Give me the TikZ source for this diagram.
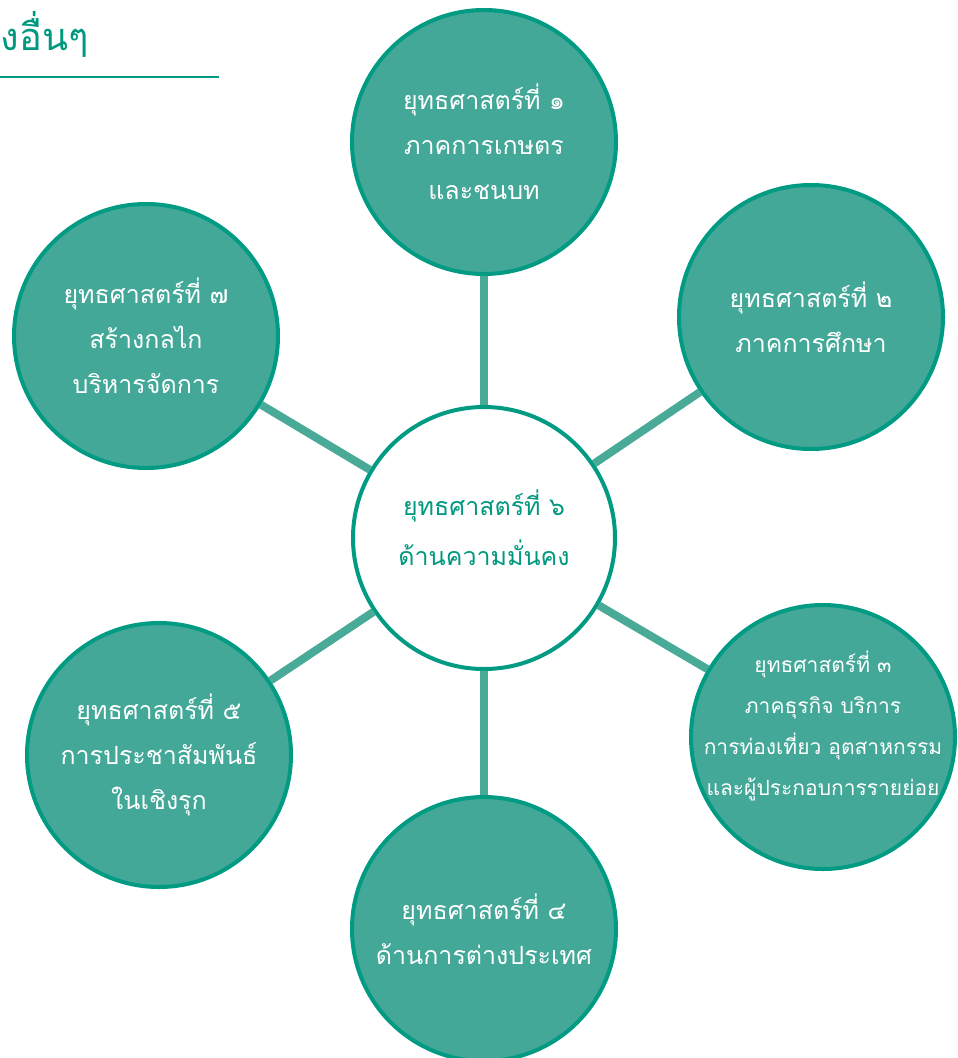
\documentclass[tikz,border=0pt]{standalone}
\usepackage{fontspec}
\newfontfamily\thai[Script=Thai]{Loma}
\definecolor{tealfill}{HTML}{43A897}
\definecolor{tealedge}{HTML}{009B82}
\definecolor{tealline}{HTML}{48AA97}
\definecolor{tealtext}{HTML}{00997F}
\tikzset{
  outer/.style={circle, draw=tealedge, line width=4pt, fill=tealfill, minimum size=264pt, inner sep=0pt,
    text=white, align=center, font=\thai\fontsize{25}{45}\selectfont},
  hub/.style={circle, draw=tealedge, line width=4pt, fill=white, minimum size=262pt, inner sep=0pt,
    text=tealtext, align=center, font=\thai\fontsize{25}{50}\selectfont},
  spoke/.style={draw=tealline, line width=8pt},
  titletext/.style={text=tealtext, font=\thai\fontsize{38}{40}\selectfont, inner sep=0pt}
}
\begin{document}
\begin{tikzpicture}[x=1pt,y=-1pt]
\useasboundingbox (0,0) rectangle (958,1058);
\clip (0,0) rectangle (958,1058);
\node[titletext, anchor=base west] (title) at (0.5,50) {งอื่นๆ};
\coordinate (ulA) at (0,77);
\coordinate (ulB) at (219,77);
\draw[tealedge, line width=2.5pt] (ulA) -- (ulB);

\node[hub] (c) at (484,538) {\raisebox{1pt}[0pt][0pt]{\begin{tabular}{@{}c@{}}ยุทธศาสตร์ที่ ๖\\ด้านความมั่นคง\end{tabular}}};
\node[outer] (s1) at (484,142) {ยุทธศาสตร์ที่ ๑\\ภาคการเกษตร\\และชนบท};
\node[outer] (s2) at (811,317) {ยุทธศาสตร์ที่ ๒\\ภาคการศึกษา};
\node[outer, font=\thai\fontsize{21}{41}\selectfont] (s3) at (823,737) {\raisebox{6pt}[0pt][0pt]{\begin{tabular}{@{}c@{}}ยุทธศาสตร์ที่ ๓\\ภาคธุรกิจ บริการ\\การท่องเที่ยว อุตสาหกรรม\\และผู้ประกอบการรายย่อย\end{tabular}}};
\node[outer] (s4) at (484,929) {ยุทธศาสตร์ที่ ๔\\ด้านการต่างประเทศ};
\node[outer] (s5) at (159,755) {ยุทธศาสตร์ที่ ๕\\การประชาสัมพันธ์\\ในเชิงรุก};
\node[outer] (s7) at (146,336) {ยุทธศาสตร์ที่ ๗\\สร้างกลไก\\บริหารจัดการ};

\draw[spoke] (c) -- (s1);
\draw[spoke] (c) -- (s2);
\draw[spoke] (c) -- (s3);
\draw[spoke] (c) -- (s4);
\draw[spoke] (c) -- (s5);
\draw[spoke] (c) -- (s7);
\end{tikzpicture}
\end{document}
